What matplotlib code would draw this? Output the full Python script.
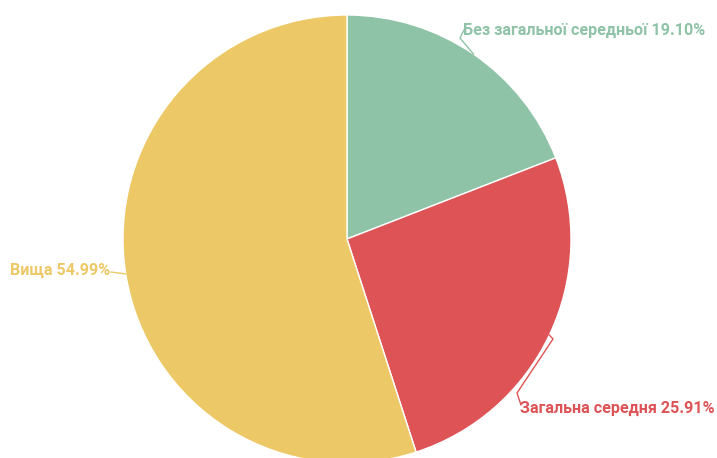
import numpy as np
import matplotlib.pyplot as plt

labels = ["Без загальної середньої", "Загальна середня", "Вища"]
shares = [19.10, 25.91, 54.99]
colors = ["#8fc3a7", "#dd5356", "#edc867"]

W, H = 717, 458
cx, cy, r = 347, H - 239, 224

fig = plt.figure(figsize=(W / 100, H / 100), dpi=100)
ax = fig.add_axes([0, 0, 1, 1])

wedges, _ = ax.pie(shares, colors=colors, startangle=90, counterclock=False,
                   center=(cx, cy), radius=r, frame=True,
                   wedgeprops=dict(edgecolor="white", linewidth=1))
ax.set_xlim(0, W)
ax.set_ylim(0, H)
ax.axis("off")

# leader-line elbows and text anchors, in pixels from top-left
layout = [
    dict(pts=[(460, 38), (464, 30)], text=(463, 30), ha="left"),
    dict(pts=[(553, 339), (517, 393), (521, 405)], text=(520, 408), ha="left"),
    dict(pts=[(111, 272)], text=(110, 270), ha="right"),
]

for w, lab, val, col, lay in zip(wedges, labels, shares, colors, layout):
    mid = np.deg2rad((w.theta1 + w.theta2) / 2)
    x0, y0 = cx + r * np.cos(mid), cy + r * np.sin(mid)
    xs = [x0] + [p[0] for p in lay["pts"]]
    ys = [y0] + [H - p[1] for p in lay["pts"]]
    ax.plot(xs, ys, color=col, lw=1)
    tx, ty = lay["text"]
    ax.text(tx, H - ty, f"{lab} {val:.2f}%", color=col, fontsize=11.6,
            fontweight="bold", family="Roboto", ha=lay["ha"], va="center")

fig.savefig("out.png", dpi=100)
